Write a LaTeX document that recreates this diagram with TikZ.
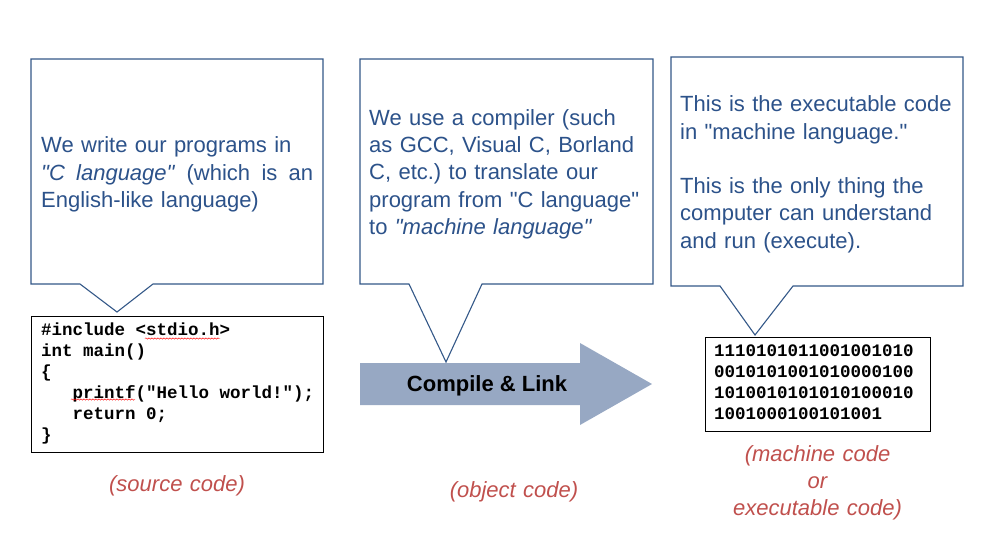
\documentclass[tikz,border=0pt]{standalone}
\usepackage{fontspec}
\setmainfont{Liberation Sans}[Ligatures=TeXOff]
\setmonofont{Liberation Mono}
\usetikzlibrary{decorations.pathmorphing}

\definecolor{txtblue}{RGB}{44,82,138}
\definecolor{calloutline}{RGB}{52,88,136}
\definecolor{arrowfill}{RGB}{151,168,195}
\definecolor{labred}{RGB}{192,80,77}

% fixed-width interword spaces for the code listings
\newcommand\fixedcodespaces{\spaceskip=10.5pt\relax\xspaceskip=10.5pt\relax}

\begin{document}
\frenchspacing
\begin{tikzpicture}[x=1pt,y=-1pt,
  callout/.style={draw=calloutline, line width=1.1pt, fill=white, line join=miter},
  blurb/.style={anchor=base west, inner sep=0pt, text width=#1, align=left,
    text=txtblue, font=\fontsize{22}{27.3}\selectfont},
  codebox/.style={draw=black, line width=1.2pt, fill=white, anchor=north west,
    inner sep=0pt, minimum width=#1},
  codetext/.style={anchor=base west, inner sep=0pt, text width=#1, align=left,
    font=\ttfamily\bfseries\fontsize{17.5}{21}\selectfont,
    execute at begin node=\fixedcodespaces},
  kindlabel/.style={anchor=base, inner sep=0pt, text width=220pt, align=center,
    text=labred, font=\itshape\fontsize{22}{27}\selectfont},
  spellmark/.style={draw=red, line width=0.45pt,
    decorate, decoration={snake, amplitude=0.7pt, segment length=3pt}}
]
\useasboundingbox (0,0) rectangle (992,539);

% ---------- callout outlines with their pointers ----------
\coordinate (t1) at (117,312);
\coordinate (t2) at (446,362);
\coordinate (t3) at (755,335);
\draw[callout] (31,59) -- (323,59) -- (323,284) -- (153,284) -- (t1)
  -- (80,284) -- (31,284) -- cycle;
\draw[callout] (360,59) -- (653,59) -- (653,284) -- (482,284) -- (t2)
  -- (409,284) -- (360,284) -- cycle;
\draw[callout] (671,57) -- (963,57) -- (963,286) -- (793,286) -- (t3)
  -- (720,286) -- (671,286) -- cycle;

% ---------- callout texts ----------
\node[blurb=272pt] (say1) at (41,152.7) {We write our programs in\\
  \makebox[272pt][l]{\textit{"C\hfill language"}\hfill(which\hfill is\hfill an}\\
  English-like language)};
\node[blurb=284pt] (say2) at (369,125.3) {We use a compiler (such\\
  as GCC, Visual C, Borland\\
  C, etc.) to translate our\\
  program from "C language"\\
  to \textit{"machine language"}};
\node[blurb=284pt] (say3) at (680,111.7) {This is the executable code\\
  in "machine language."\\[27.3pt]
  This is the only thing the\\
  computer can understand\\
  and run (execute).};

% ---------- source code ----------
\node[codebox=292pt, minimum height=136pt] (src) at (31,316) {};
\node[codetext=280pt] (srctxt) at (41,335) {\#include <stdio.h>\\
  int main()\\
  \{\\
  \hspace*{31.5pt}printf("Hello world!");\\
  \hspace*{31.5pt}return 0;\\
  \}};
\draw[spellmark] (145,338.5) -- (220,338.5);
\draw[spellmark] (71,399.5) -- (135,399.5);

% ---------- compile arrow ----------
\fill[arrowfill] (360,363) -- (580,363) -- (580,343) -- (652,384)
  -- (580,425) -- (580,405) -- (360,405) -- cycle;
\node[anchor=base, inner sep=0pt, font=\bfseries\fontsize{22}{26}\selectfont]
  (compile) at (487,391.7) {Compile \& Link};

% ---------- machine code ----------
\node[codebox=225pt, minimum height=94pt] (bin) at (705,337) {};
\node[codetext=210pt] (bintxt) at (714,356) {1110101011001001010\\
  0010101001010000100\\
  1010010101010100010\\
  1001000100101001};

% ---------- stage labels ----------
\node[kindlabel] (lsrc) at (177,491) {(source code)};
\node[kindlabel] (lobj) at (514,497) {(object code)};
\node[kindlabel] (lbin) at (817.5,461) {(machine code\\ or\\ executable code)};
\end{tikzpicture}
\end{document}
